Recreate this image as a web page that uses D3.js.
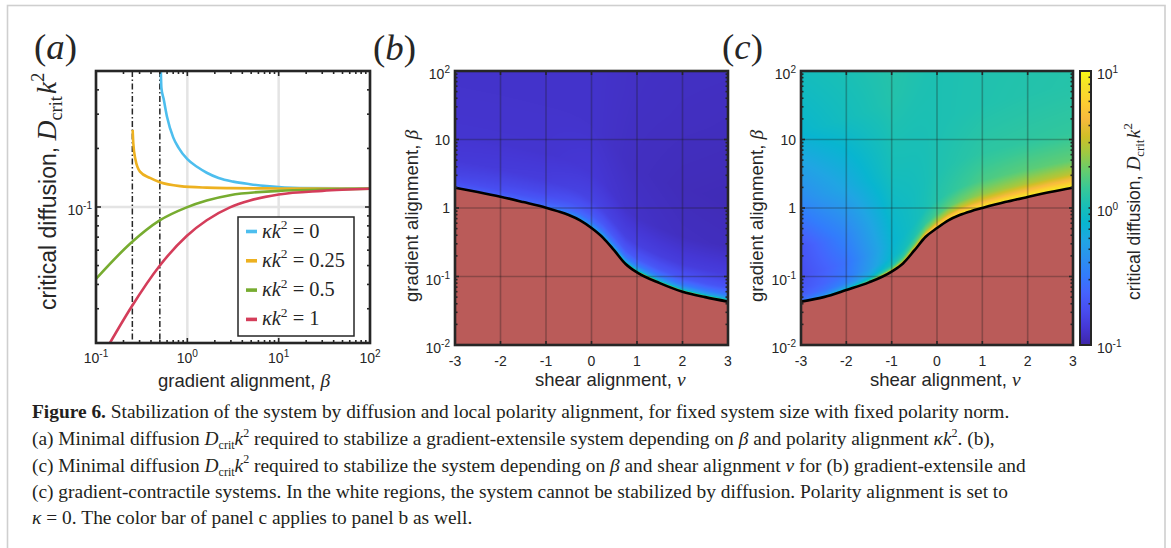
<!DOCTYPE html>
<html><head><meta charset="utf-8">
<script src="https://cdn.jsdelivr.net/npm/d3@7/dist/d3.min.js"></script>
<style>html,body{margin:0;padding:0;background:#fff;overflow:hidden}svg{display:block}</style>
</head><body>
<svg id="fig" width="1171" height="548"></svg>
<script>
// ================= DATA =================
// Panel (a): critical diffusion D_crit k^2 vs gradient alignment beta, one series per kappa k^2
const kappaValues = ["0", "0.25", "0.5", "1"];
const betaK0    = [0.513, 0.52, 0.55, 0.6, 0.7, 0.8, 1.0, 1.3, 1.63, 2.2, 3.18, 4.85, 7.4, 17, 100];
const dcritK0   = [0.5, 0.41, 0.36, 0.29, 0.228, 0.202, 0.176, 0.160, 0.150, 0.141, 0.135, 0.131, 0.128, 0.125, 0.1245];
const betaK025  = [0.252, 0.256, 0.27, 0.303, 0.390, 0.502, 0.832, 1.63, 2.93, 10, 100];
const dcritK025 = [0.249, 0.213, 0.176, 0.152, 0.141, 0.134, 0.128, 0.1257, 0.125, 0.1245, 0.124];
const betaK05   = [0.1, 0.246, 0.493, 0.984, 1.63, 2.93, 10, 30, 100];
const dcritK05  = [0.0427, 0.0659, 0.0851, 0.0996, 0.108, 0.115, 0.121, 0.123, 0.124];
const betaK1    = [0.142, 0.246, 0.493, 0.984, 1.63, 2.93, 4.85, 10, 30, 100];
const dcritK1   = [0.02, 0.0308, 0.0496, 0.0710, 0.0855, 0.0996, 0.108, 0.116, 0.121, 0.124];
const thresholdBetas = [0.25, 0.5];

// Panels (b),(c): stability boundary beta(nu) (below it: not stabilizable)
const nuGrid = [-3, -2.5, -2, -1.5, -1, -0.75, -0.5, -0.25, 0, 0.25, 0.5, 0.75, 1, 1.5, 2, 2.5, 3];
const boundaryExtensile   = [1.98, 1.71, 1.46, 1.22, 1.01, 0.90, 0.79, 0.66, 0.51, 0.37, 0.24, 0.152, 0.115, 0.080, 0.060, 0.050, 0.043];
const boundaryContractile = [0.043, 0.050, 0.0635, 0.082, 0.118, 0.155, 0.24, 0.38, 0.51, 0.66, 0.79, 0.90, 1.0, 1.22, 1.45, 1.71, 1.98];

// D_crit k^2 read at nu columns and at offsets (decades of beta) above the boundary
const heatNu = [-3, -2, -1, 0, 1, 2, 3];
const heatOffset = [0, 0.02, 0.05, 0.1, 0.2, 0.4, 0.8, 1.5, 2.5, 4.5];
const dcritExtensile = [
  [0.316, 0.209, 0.191, 0.174, 0.158, 0.138, 0.129, 0.126, 0.126, 0.126],
  [0.398, 0.229, 0.209, 0.182, 0.166, 0.141, 0.129, 0.126, 0.126, 0.126],
  [0.631, 0.275, 0.240, 0.209, 0.174, 0.145, 0.129, 0.126, 0.126, 0.126],
  [3.98,  0.575, 0.380, 0.275, 0.209, 0.158, 0.135, 0.126, 0.126, 0.126],
  [10,    1.26,  0.525, 0.316, 0.209, 0.151, 0.123, 0.117, 0.120, 0.123],
  [10,    1.26,  0.525, 0.316, 0.200, 0.145, 0.117, 0.112, 0.117, 0.123],
  [10,    1.26,  0.525, 0.316, 0.200, 0.145, 0.115, 0.110, 0.115, 0.123]
];
const dcritContractile = [
  [1.0,  0.275, 0.251, 0.219, 0.200, 0.182, 0.200, 0.398, 0.794, 1.26],
  [2.51, 0.794, 0.501, 0.363, 0.302, 0.288, 0.363, 0.603, 0.955, 1.26],
  [6.31, 3.16,  1.58,  1.00,  0.794, 0.759, 0.832, 1.00,  1.15,  1.26],
  [10,   6.92,  4.79,  2.75,  1.58,  1.17,  1.10,  1.07,  1.07,  1.07],
  [10,   7.94,  6.03,  3.98,  2.40,  1.58,  1.26,  1.12,  1.10,  1.10],
  [10,   8.32,  6.61,  4.57,  2.75,  1.74,  1.29,  1.15,  1.12,  1.12],
  [10,   8.71,  6.92,  5.01,  3.02,  1.82,  1.32,  1.17,  1.15,  1.15]
];

// Tick labels
const aXTickLabels = ["10^-1", "10^0", "10^1", "10^2"];
const aYTickLabels = ["10^-1"];
const nuTickLabels = ["-3", "-2", "-1", "0", "1", "2", "3"];
const betaTickLabels = ["10^-2", "10^-1", "1", "10", "10^2"];
const cbarTickLabels = ["10^-1", "10^0", "10^1"];

// ================= STYLE =================
const SANS = "'Liberation Sans', Arial, Helvetica, sans-serif";
const SERIF = "'Liberation Serif', 'Times New Roman', serif";
const INK = "#262626";
const RED = "#ba5b59";
const seriesColors = ["#4dbeee", "#edb120", "#77ac30", "#d43d5a"];
const parula = ["#3e26a8","#4537d5","#484df0","#4563fd","#327cfc","#2b91ef","#20a5e3","#08b5d0",
                "#19bfb6","#37c897","#64cd6f","#9dc943","#d1bf27","#f8ba3d","#fccf30","#f5e327","#f9fb15"];
const parulaPos = [0,4,8,12,16,20,24,28,32,36,40,44,48,52,56,60,63].map(i => i / 63);
const cmap = d3.scaleLinear().domain(parulaPos).range(parula).interpolate(d3.interpolateRgb).clamp(true);
const cNorm = d3.scaleLog().domain([0.1, 10]).range([0, 1]).clamp(true);

const svg = d3.select('#fig');

// ---------- helpers ----------
function valOf(lbl) { return lbl.includes('^') ? Math.pow(10, +lbl.split('^')[1]) : +lbl; }
function rich(g, parts, size, attrs) {
  const t = g.append('text').attr('font-size', size).attr('fill', INK);
  for (const k in attrs) t.attr(k, attrs[k]);
  let cur = 0;
  parts.forEach(p => {
    const s = t.append('tspan').text(p.t);
    const ps = size * (p.fs || 1);
    s.attr('font-family', p.sans ? SANS : SERIF);
    if (p.it) s.attr('font-style', 'italic');
    if (p.b) s.attr('font-weight', 'bold');
    const target = p.sub ? 0.22 * ps : p.sup ? -0.42 * ps : 0;
    if (target !== cur) { s.attr('dy', target - cur); cur = target; }
    if (p.sub || p.sup) s.attr('font-size', ps * (p.small || 0.68));
    else if (p.fs) s.attr('font-size', ps);
    if (p.dx) s.attr('dx', p.dx * ps);
  });
  return t;
}
function fitSize(g, parts, size0, len) {
  const t = rich(g, parts, size0, {});
  const w = t.node().getBBox().width;
  t.remove();
  return size0 * len / w;
}
function powParts(lbl) {
  if (lbl.includes('^')) { const [b, e] = lbl.split('^'); return [{t: b, sans: 1}, {t: e, sans: 1, sup: 1, small: 0.72}]; }
  return [{t: lbl, sans: 1}];
}
function logVals(a, b) {
  const maj = [], min = [];
  for (let e = Math.floor(Math.log10(a)) - 1; e <= Math.ceil(Math.log10(b)); e++) {
    for (let m = 1; m < 10; m++) {
      const v = m * Math.pow(10, e);
      if (v < a * 0.999 || v > b * 1.001) continue;
      (m === 1 ? maj : min).push(v);
    }
  }
  return {maj, min};
}
function tickLinesX(g, xS, vals, yB, yT, len) {
  vals.forEach(v => {
    const x = xS(v);
    g.append('line').attr('x1', x).attr('x2', x).attr('y1', yB).attr('y2', yB - len).attr('stroke', INK).attr('stroke-width', 1.6);
    g.append('line').attr('x1', x).attr('x2', x).attr('y1', yT).attr('y2', yT + len).attr('stroke', INK).attr('stroke-width', 1.6);
  });
}
function tickLinesY(g, yS, vals, xL, xR, len) {
  vals.forEach(v => {
    const y = yS(v);
    g.append('line').attr('y1', y).attr('y2', y).attr('x1', xL).attr('x2', xL + len).attr('stroke', INK).attr('stroke-width', 1.6);
    g.append('line').attr('y1', y).attr('y2', y).attr('x1', xR).attr('x2', xR - len).attr('stroke', INK).attr('stroke-width', 1.6);
  });
}
const dcritParts = (mfs) => [
  {t: 'critical diffusion, ', sans: 1},
  {t: 'D', it: 1, fs: mfs}, {t: 'crit', sub: 1, small: 0.66, fs: mfs}, {t: 'k', it: 1, dx: 0.08, fs: mfs}, {t: '2', sup: 1, small: 0.66, fs: mfs}
];
const labelSize = 18.5;

// ---------- frame ----------
svg.append('rect').attr('x', 7.5).attr('y', 5.5).attr('width', 1157.5).attr('height', 600)
  .attr('fill', 'none').attr('stroke', '#cfcfcf').attr('stroke-width', 1.6);

// ================= PANEL (a) =================
(function () {
  const L = 96, R = 370, T = 71, B = 343;
  const xA = d3.scaleLog().domain([0.1, 100]).range([L, R]);
  const yA = d3.scaleLog().domain([0.02, 0.5]).range([B, T]);
  const g = svg.append('g');
  g.append('rect').attr('x', L).attr('y', T).attr('width', R - L).attr('height', B - T).attr('fill', '#fff');
  aXTickLabels.map(valOf).forEach(v => g.append('line').attr('x1', xA(v)).attr('x2', xA(v)).attr('y1', T).attr('y2', B)
    .attr('stroke', '#e4e4e4').attr('stroke-width', 2.5));
  aYTickLabels.map(valOf).forEach(v => g.append('line').attr('y1', yA(v)).attr('y2', yA(v)).attr('x1', L).attr('x2', R)
    .attr('stroke', '#e4e4e4').attr('stroke-width', 2.5));
  thresholdBetas.forEach(b => g.append('line').attr('x1', xA(b)).attr('x2', xA(b)).attr('y1', T).attr('y2', B)
    .attr('stroke', INK).attr('stroke-width', 1.5).attr('stroke-dasharray', '6,2.5,1.5,2.5'));
  svg.append('clipPath').attr('id', 'clipA').append('rect').attr('x', L).attr('y', T).attr('width', R - L).attr('height', B - T);
  const series = [[betaK0, dcritK0], [betaK025, dcritK025], [betaK05, dcritK05], [betaK1, dcritK1]];
  const line = d3.line().x(d => xA(d[0])).y(d => yA(d[1])).curve(d3.curveMonotoneX);
  series.forEach((s, i) => {
    g.append('path').datum(s[0].map((b, k) => [b, s[1][k]])).attr('d', line).attr('clip-path', 'url(#clipA)')
      .attr('fill', 'none').attr('stroke', seriesColors[i]).attr('stroke-width', 2.6);
  });
  const xt = logVals(0.1, 100), yt = logVals(0.02, 0.5);
  tickLinesX(g, xA, xt.maj, B, T, 5); tickLinesX(g, xA, xt.min, B, T, 3);
  tickLinesY(g, yA, yt.maj, L, R, 5); tickLinesY(g, yA, yt.min, L, R, 3);
  g.append('rect').attr('x', L).attr('y', T).attr('width', R - L).attr('height', B - T)
    .attr('fill', 'none').attr('stroke', INK).attr('stroke-width', 2.6);
  aXTickLabels.forEach(l => rich(g, powParts(l), 14, {x: xA(valOf(l)), y: 363, 'text-anchor': 'middle'}));
  aYTickLabels.forEach(l => rich(g, powParts(l), 14, {x: L - 4, y: yA(valOf(l)) + 8, 'text-anchor': 'end'}));
  // legend
  const lx = 238, ly = 217;
  g.append('rect').attr('x', lx).attr('y', ly).attr('width', 116).attr('height', 119)
    .attr('fill', '#fff').attr('stroke', INK).attr('stroke-width', 1.5);
  const legParts = v => [{t: 'κ', it: 1}, {t: 'k', it: 1}, {t: '2', sup: 1, small: 0.66}, {t: ' = ' + v}];
  const legSize = fitSize(g, legParts('0.25'), 17, 83);
  kappaValues.forEach((v, i) => {
    const cy = 231.5 + i * 29.3;
    g.append('line').attr('x1', 246).attr('x2', 257).attr('y1', cy).attr('y2', cy)
      .attr('stroke', seriesColors[i]).attr('stroke-width', 3.6);
    rich(g, legParts(v), legSize, {x: 262, y: cy + 6});
  });
  const xp = [{t: 'gradient alignment, ', sans: 1}, {t: 'β', it: 1, fs: 1.05}];
  rich(g, xp, labelSize, {x: 158, y: 387});
  rich(g, dcritParts(1.2), 23, {x: 56, y: 310, transform: 'rotate(-90,56,310)'});
})();

// ================= PANELS (b), (c) =================
const lut = d3.range(1024).map(i => d3.rgb(cmap(i / 1023)));
function heatURL(xS, yS, boundary, table) {
  const [x0, x1] = xS.range(); const yT = yS.range()[1], yB = yS.range()[0];
  const w = Math.round(x1 - x0), h = Math.round(yB - yT);
  const cv = document.createElement('canvas'); cv.width = w; cv.height = h;
  const ctx = cv.getContext('2d'); const im = ctx.createImageData(w, h);
  const bLog = d3.scaleLinear().domain(nuGrid).range(boundary.map(Math.log10));
  const cols = table.map(row => d3.scaleLinear().domain(heatOffset).range(row.map(Math.log10)).clamp(true));
  for (let i = 0; i < w; i++) {
    const nu = xS.invert(x0 + (i + 0.5) * (x1 - x0) / w);
    const lb0 = bLog(nu);
    const k = Math.min(heatNu.length - 2, Math.max(0, d3.bisectRight(heatNu, nu) - 1));
    const f = Math.max(0, Math.min(1, (nu - heatNu[k]) / (heatNu[k + 1] - heatNu[k])));
    for (let j = 0; j < h; j++) {
      const lb = Math.log10(yS.invert(yT + (j + 0.5) * (yB - yT) / h));
      const d = Math.max(0, lb - lb0);
      const lv = cols[k](d) * (1 - f) + cols[k + 1](d) * f;
      const c = lut[Math.round(cNorm(Math.pow(10, lv)) * 1023)];
      const o = (j * w + i) * 4;
      im.data[o] = c.r; im.data[o + 1] = c.g; im.data[o + 2] = c.b; im.data[o + 3] = 255;
    }
  }
  ctx.putImageData(im, 0, 0);
  return cv.toDataURL();
}
function heatPanel(L, R, boundary, table, yLabX, xLabX, id) {
  const T = 71, B = 345;
  const xS = d3.scaleLinear().domain([-3, 3]).range([L, R]);
  const yS = d3.scaleLog().domain([0.01, 100]).range([B, T]);
  const g = svg.append('g');
  g.append('image').attr('href', heatURL(xS, yS, boundary, table)).attr('x', L).attr('y', T)
    .attr('width', R - L).attr('height', B - T).attr('preserveAspectRatio', 'none');
  const bd = nuGrid.map((n, i) => [n, boundary[i]]);
  svg.append('clipPath').attr('id', id).append('rect').attr('x', L).attr('y', T).attr('width', R - L).attr('height', B - T);
  g.append('path').datum(bd).attr('clip-path', `url(#${id})`)
    .attr('d', d3.area().x(d => xS(d[0])).y0(B).y1(d => yS(d[1])).curve(d3.curveMonotoneX)).attr('fill', RED);
  nuTickLabels.map(valOf).forEach(v => g.append('line').attr('x1', xS(v)).attr('x2', xS(v)).attr('y1', T).attr('y2', B)
    .attr('stroke', '#1a1a1a').attr('stroke-opacity', 0.3).attr('stroke-width', 1.6));
  betaTickLabels.map(valOf).forEach(v => g.append('line').attr('y1', yS(v)).attr('y2', yS(v)).attr('x1', L).attr('x2', R)
    .attr('stroke', '#1a1a1a').attr('stroke-opacity', 0.3).attr('stroke-width', 1.6));
  g.append('path').datum(bd).attr('clip-path', `url(#${id})`)
    .attr('d', d3.line().x(d => xS(d[0])).y(d => yS(d[1])).curve(d3.curveMonotoneX))
    .attr('fill', 'none').attr('stroke', '#000').attr('stroke-width', 2.6);
  tickLinesX(g, xS, nuTickLabels.map(valOf), B, T, 4);
  const yt = logVals(0.01, 100);
  tickLinesY(g, yS, yt.maj, L, R, 4); tickLinesY(g, yS, yt.min, L, R, 2.5);
  g.append('rect').attr('x', L).attr('y', T).attr('width', R - L).attr('height', B - T)
    .attr('fill', 'none').attr('stroke', INK).attr('stroke-width', 2.6);
  nuTickLabels.forEach(l => rich(g, [{t: l, sans: 1}], 14, {x: xS(valOf(l)), y: 366, 'text-anchor': 'middle'}));
  betaTickLabels.forEach(l => rich(g, powParts(l), 14,
    {x: L - 5, y: yS(valOf(l)) + (l.includes('^') ? 8 : 5), 'text-anchor': 'end'}));
  const xp = [{t: 'shear alignment, ', sans: 1}, {t: 'ν', it: 1, fs: 1.05}];
  rich(g, xp, labelSize, {x: xLabX, y: 386});
  const yp = [{t: 'gradient alignment, ', sans: 1}, {t: 'β', it: 1, fs: 1.05}];
  rich(g, yp, labelSize, {x: yLabX, y: 302, transform: `rotate(-90,${yLabX},302)`});
}
heatPanel(455, 728, boundaryExtensile, dcritExtensile, 418, 535, 'clipB');
heatPanel(801, 1073, boundaryContractile, dcritContractile, 763, 870, 'clipC');

// ---------- colorbar ----------
(function () {
  const L = 1080, R = 1091, T = 71, B = 345;
  const yC = d3.scaleLog().domain([0.1, 10]).range([B, T]);
  const g = svg.append('g');
  const grad = svg.append('defs').append('linearGradient').attr('id', 'cbg')
    .attr('x1', 0).attr('y1', 1).attr('x2', 0).attr('y2', 0);
  parula.forEach((c, i) => grad.append('stop').attr('offset', parulaPos[i]).attr('stop-color', c));
  g.append('rect').attr('x', L).attr('y', T).attr('width', R - L).attr('height', B - T).attr('fill', 'url(#cbg)');
  const ct = logVals(0.1, 10);
  ct.min.concat(ct.maj).forEach(v => g.append('line').attr('x1', R).attr('x2', R - 2.5).attr('y1', yC(v)).attr('y2', yC(v))
    .attr('stroke', INK).attr('stroke-width', 1.6));
  g.append('rect').attr('x', L).attr('y', T).attr('width', R - L).attr('height', B - T)
    .attr('fill', 'none').attr('stroke', INK).attr('stroke-width', 2);
  cbarTickLabels.forEach(l => rich(g, powParts(l), 14, {x: 1097, y: yC(valOf(l)) + 8}));
  const yp = dcritParts(1.1);
  rich(g, yp, fitSize(g, yp, 17, 177), {x: 1140, y: 300, transform: 'rotate(-90,1140,300)'});
})();

// ---------- panel letters ----------
(function () {
  const lp = s => [{t: '('}, {t: s, it: 1}, {t: ')'}];
  const sz = fitSize(svg, lp('a'), 30, 43);
  rich(svg, lp('a'), sz, {x: 34, y: 58.5});
  rich(svg, lp('b'), sz, {x: 373, y: 60});
  rich(svg, lp('c'), sz, {x: 722, y: 58.5});
})();

// ---------- caption ----------
(function () {
  const Dk = [{t: 'D', it: 1}, {t: 'crit', sub: 1, small: 0.62}, {t: 'k', it: 1}, {t: '2', sup: 1, small: 0.62}];
  const lines = [
    [{t: 'Figure 6.', b: 1}, {t: ' Stabilization of the system by diffusion and local polarity alignment, for fixed system size with fixed polarity norm.'}],
    [{t: '(a) Minimal diffusion '}, ...Dk, {t: ' required to stabilize a gradient-extensile system depending on '}, {t: 'β', it: 1},
     {t: ' and polarity alignment '}, {t: 'κk', it: 1}, {t: '2', sup: 1, small: 0.62}, {t: '. (b),'}],
    [{t: '(c) Minimal diffusion '}, ...Dk, {t: ' required to stabilize the system depending on '}, {t: 'β', it: 1},
     {t: ' and shear alignment '}, {t: 'ν', it: 1}, {t: ' for (b) gradient-extensile and'}],
    [{t: '(c) gradient-contractile systems. In the white regions, the system cannot be stabilized by diffusion. Polarity alignment is set to'}],
    [{t: 'κ', it: 1}, {t: ' = 0. The color bar of panel c applies to panel b as well.'}]
  ];
  const sz = fitSize(svg, lines[0], 19, 978);
  const base = [418, 445, 471.5, 498, 523.5];
  lines.forEach((p, i) => rich(svg, p, sz, {x: 32, y: base[i], fill: '#231f20'}));
})();
</script>
</body></html>
